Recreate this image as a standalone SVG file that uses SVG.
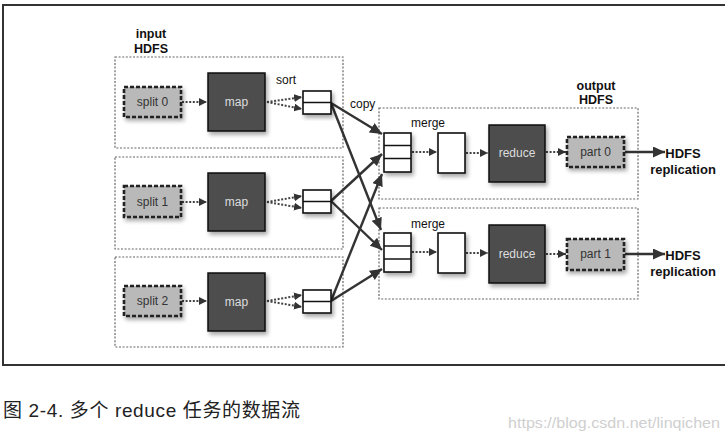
<svg xmlns="http://www.w3.org/2000/svg" width="725" height="438" viewBox="0 0 725 438">
<defs>
<style>
.frame{fill:none;stroke:#333;stroke-width:2}
.cont{fill:none;stroke:#666;stroke-width:1.2;stroke-dasharray:2,1.6}
.split{fill:#b9b9b9;stroke:#222;stroke-width:2.6;stroke-dasharray:4,2}
.map{fill:#4d4d4d;stroke:#111;stroke-width:1.5}
.buf{fill:#fff;stroke:#111;stroke-width:1.6}
.lbl{font-family:"Liberation Sans",Arial,sans-serif;font-size:12px;fill:#333}
.wlbl{font-family:"Liberation Sans",Arial,sans-serif;font-size:12px;fill:#ddd}
.bold{font-family:"Liberation Sans",Arial,sans-serif;font-size:12.5px;font-weight:bold;fill:#111}
.nlbl{font-family:"Liberation Sans",Arial,sans-serif;font-size:12px;fill:#111}
.dot{fill:none;stroke:#444;stroke-width:2;stroke-dasharray:2,1.6}
.cp{fill:none;stroke:#333;stroke-width:2.4}
.cap{font-family:"Liberation Sans","Noto Sans CJK SC",sans-serif;font-size:19px;fill:#222}
.wm{font-family:"Liberation Sans",Arial,sans-serif;font-size:15px;fill:#cfcfcf}
</style>
<marker id="ah" markerUnits="userSpaceOnUse" markerWidth="9" markerHeight="8" refX="8" refY="4" orient="auto">
<path d="M0,0 L8,4 L0,8 z" fill="#333"/>
</marker>
<marker id="ahb" markerUnits="userSpaceOnUse" markerWidth="13" markerHeight="11" refX="12" refY="5.5" orient="auto">
<path d="M0,0 L12,5.5 L0,11 z" fill="#333"/>
</marker>
<filter id="sh" x="-20%" y="-20%" width="150%" height="150%">
<feGaussianBlur in="SourceAlpha" stdDeviation="2"/>
<feOffset dx="2" dy="3" result="b"/>
<feComponentTransfer><feFuncA type="linear" slope="0.35"/></feComponentTransfer>
<feMerge><feMergeNode/><feMergeNode in="SourceGraphic"/></feMerge>
</filter>
</defs>
<rect width="725" height="438" fill="#fff"/>
<rect class="frame" x="3" y="5" width="730" height="360"/>

<g id="input-hdfs">
<text class="bold" x="151" y="38" text-anchor="middle">input</text>
<text class="bold" x="151" y="53" text-anchor="middle">HDFS</text>
<rect class="cont" x="115" y="57" width="228" height="91"/>
<rect class="cont" x="115" y="157" width="228" height="92"/>
<rect class="cont" x="115" y="257" width="228" height="90"/>
</g>
<g id="output-hdfs">
<text class="bold" x="596" y="90" text-anchor="middle">output</text>
<text class="bold" x="596" y="104" text-anchor="middle">HDFS</text>
<rect class="cont" x="379" y="108" width="259" height="91"/>
<rect class="cont" x="379" y="208" width="259" height="91"/>
</g>

<g id="connectors">
<line class="dot" x1="182" y1="102" x2="207" y2="102" marker-end="url(#ah)"/>
<line class="dot" x1="182" y1="202" x2="207" y2="202" marker-end="url(#ah)"/>
<line class="dot" x1="182" y1="301" x2="207" y2="301" marker-end="url(#ah)"/>
<line class="dot" x1="267" y1="102" x2="302" y2="97" marker-end="url(#ah)"/>
<line class="dot" x1="267" y1="102" x2="302" y2="109" marker-end="url(#ah)"/>
<line class="dot" x1="267" y1="202" x2="302" y2="196" marker-end="url(#ah)"/>
<line class="dot" x1="267" y1="202" x2="302" y2="208" marker-end="url(#ah)"/>
<line class="dot" x1="267" y1="301" x2="302" y2="295" marker-end="url(#ah)"/>
<line class="dot" x1="267" y1="301" x2="302" y2="307" marker-end="url(#ah)"/>
<line class="cp" x1="331" y1="103" x2="382" y2="134" marker-end="url(#ahb)"/>
<line class="cp" x1="331" y1="103" x2="381" y2="230" marker-end="url(#ahb)"/>
<line class="cp" x1="331" y1="201" x2="382" y2="154" marker-end="url(#ahb)"/>
<line class="cp" x1="331" y1="201" x2="382" y2="250" marker-end="url(#ahb)"/>
<line class="cp" x1="331" y1="301" x2="382" y2="174" marker-end="url(#ahb)"/>
<line class="cp" x1="331" y1="301" x2="382" y2="269" marker-end="url(#ahb)"/>
<line class="dot" x1="412" y1="152" x2="437" y2="152" marker-end="url(#ah)"/>
<line class="dot" x1="412" y1="252" x2="437" y2="252" marker-end="url(#ah)"/>
<line class="dot" x1="466" y1="153" x2="488" y2="153" marker-end="url(#ah)"/>
<line class="dot" x1="466" y1="253" x2="488" y2="253" marker-end="url(#ah)"/>
<line class="dot" x1="546" y1="152" x2="566" y2="152" marker-end="url(#ah)"/>
<line class="dot" x1="546" y1="254" x2="566" y2="254" marker-end="url(#ah)"/>
<line class="cp" x1="625" y1="152" x2="665" y2="152" marker-end="url(#ahb)"/>
<line class="cp" x1="625" y1="254" x2="665" y2="254" marker-end="url(#ahb)"/>
</g>

<g id="split0"><rect class="split" x="124" y="87" width="57" height="30" filter="url(#sh)"/><text class="lbl" x="152.5" y="106" text-anchor="middle">split 0</text></g>
<g id="split1"><rect class="split" x="124" y="186" width="57" height="31" filter="url(#sh)"/><text class="lbl" x="152.5" y="206" text-anchor="middle">split 1</text></g>
<g id="split2"><rect class="split" x="124" y="286" width="57" height="30" filter="url(#sh)"/><text class="lbl" x="152.5" y="305" text-anchor="middle">split 2</text></g>

<g id="map0"><rect class="map" x="208" y="73" width="57" height="58" filter="url(#sh)"/><text class="wlbl" x="236.5" y="106" text-anchor="middle">map</text></g>
<g id="map1"><rect class="map" x="208" y="173" width="57" height="58" filter="url(#sh)"/><text class="wlbl" x="236.5" y="206" text-anchor="middle">map</text></g>
<g id="map2"><rect class="map" x="208" y="273" width="57" height="58" filter="url(#sh)"/><text class="wlbl" x="236.5" y="306" text-anchor="middle">map</text></g>

<g id="sort-label"><text class="nlbl" x="276" y="84">sort</text></g>
<g id="buf0"><rect class="buf" x="303" y="91" width="28" height="23" filter="url(#sh)"/><line x1="303" y1="102.5" x2="331" y2="102.5" stroke="#111" stroke-width="1.5"/></g>
<g id="buf1"><rect class="buf" x="303" y="190" width="28" height="23" filter="url(#sh)"/><line x1="303" y1="201.5" x2="331" y2="201.5" stroke="#111" stroke-width="1.5"/></g>
<g id="buf2"><rect class="buf" x="303" y="290" width="28" height="23" filter="url(#sh)"/><line x1="303" y1="301.5" x2="331" y2="301.5" stroke="#111" stroke-width="1.5"/></g>

<g id="copy-label"><text class="nlbl" x="350" y="108">copy</text></g>

<g id="merge0"><text class="nlbl" x="411" y="127">merge</text><rect class="buf" x="384" y="133" width="27" height="39" filter="url(#sh)"/><line x1="384" y1="145.5" x2="411" y2="145.5" stroke="#111" stroke-width="1.5"/><line x1="384" y1="158.5" x2="411" y2="158.5" stroke="#111" stroke-width="1.5"/></g>
<g id="merge1"><text class="nlbl" x="411" y="228">merge</text><rect class="buf" x="384" y="233" width="27" height="39" filter="url(#sh)"/><line x1="384" y1="246" x2="411" y2="246" stroke="#111" stroke-width="1.5"/><line x1="384" y1="259" x2="411" y2="259" stroke="#111" stroke-width="1.5"/></g>

<g id="sorted0"><rect class="buf" x="438" y="133" width="27" height="40" filter="url(#sh)"/></g>
<g id="sorted1"><rect class="buf" x="438" y="233" width="27" height="40" filter="url(#sh)"/></g>

<g id="reduce0"><rect class="map" x="489" y="125" width="56" height="57" filter="url(#sh)"/><text class="wlbl" x="517" y="157" text-anchor="middle">reduce</text></g>
<g id="reduce1"><rect class="map" x="489" y="225" width="56" height="58" filter="url(#sh)"/><text class="wlbl" x="517" y="258" text-anchor="middle">reduce</text></g>

<g id="part0"><rect class="split" x="567" y="137" width="57" height="30" filter="url(#sh)"/><text class="lbl" x="595.5" y="156" text-anchor="middle">part 0</text></g>
<g id="part1"><rect class="split" x="567" y="239" width="57" height="31" filter="url(#sh)"/><text class="lbl" x="595.5" y="258" text-anchor="middle">part 1</text></g>

<g id="repl0"><text class="bold" x="683" y="158" text-anchor="middle" style="font-size:13px">HDFS</text><text class="bold" x="683" y="174" text-anchor="middle" style="font-size:13px">replication</text></g>
<g id="repl1"><text class="bold" x="683" y="260" text-anchor="middle" style="font-size:13px">HDFS</text><text class="bold" x="683" y="276" text-anchor="middle" style="font-size:13px">replication</text></g>

<text class="cap" x="3" y="417" textLength="297" lengthAdjust="spacing">图 2-4. 多个 reduce 任务的数据流</text>
<text class="wm" x="508" y="428" textLength="212" lengthAdjust="spacingAndGlyphs">https://blog.csdn.net/linqichen</text>
</svg>
